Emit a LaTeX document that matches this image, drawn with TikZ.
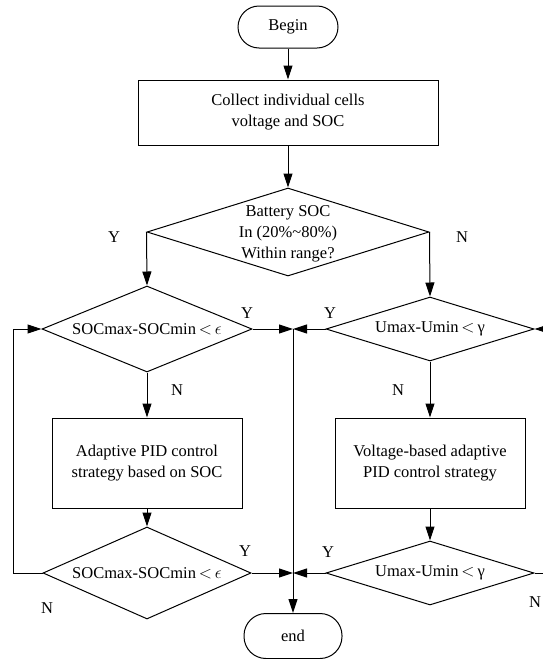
\documentclass[tikz,border=0pt]{standalone}
\usepackage{fontspec}
\setmainfont{Liberation Serif}
\usetikzlibrary{arrows.meta,shapes.geometric}
\begin{document}
\begin{tikzpicture}[x=1pt,y=-1pt,line width=1pt,
  every node/.style={font=\fontsize{16.5}{21}\selectfont},
  term/.style={draw,rectangle,rounded corners=21pt,align=center},
  proc/.style={draw,rectangle,align=center},
  dec/.style={draw,diamond,inner sep=0pt},
  txt/.style={align=center,inner sep=0pt},
  lbl/.style={inner sep=0pt},
  arr/.style={-{Triangle[length=14pt,width=9pt]}}]
\useasboundingbox (0,0) rectangle (542,659);
% nodes
\node[term,minimum width=100pt,minimum height=42pt] (begin) at (288,27) {Begin};
\node[proc,minimum width=300pt,minimum height=65pt] (collect) at (288,112.5) {Collect individual cells\\voltage and SOC};
\node[dec,minimum width=282pt,minimum height=88pt] (d1) at (288,232) {};
\node[txt] (d1t) at (288,234) {Battery SOC\\In (20\%\textasciitilde80\%)\\Within range?};
\node[dec,minimum width=210pt,minimum height=86pt] (d2) at (147,329) {};
\node[txt] (d2t) at (147,329) {SOCmax-SOCmin$\,{<}\,\epsilon$};
\node[dec,minimum width=208pt,minimum height=64pt] (d3) at (430,329) {};
\node[txt] (d3t) at (430,329) {Umax-Umin$\,{<}\,$γ};
\node[proc,minimum width=190pt,minimum height=90pt] (boxl) at (147,463) {Adaptive PID control\\strategy based on SOC};
\node[proc,minimum width=190pt,minimum height=90pt] (boxr) at (430,463) {Voltage-based adaptive\\PID control strategy};
\node[dec,minimum width=208pt,minimum height=92pt] (d4) at (147,573) {};
\node[txt] (d4t) at (147,573) {SOCmax-SOCmin$\,{<}\,\epsilon$};
\node[dec,minimum width=208pt,minimum height=64pt] (d5) at (430,573) {};
\node[txt] (d5t) at (430,573) {Umax-Umin$\,{<}\,$γ};
\node[term,rounded corners=22pt,minimum width=98pt,minimum height=45pt] (end) at (293,636) {end};
% labels
\node[lbl] (y1) at (114,237) {Y};
\node[lbl] (n1) at (462,237) {N};
\node[lbl] (y2) at (247,313) {Y};
\node[lbl] (y3) at (330,313) {Y};
\node[lbl] (n2) at (177,390) {N};
\node[lbl] (n3) at (398,390) {N};
\node[lbl] (y4) at (245,551) {Y};
\node[lbl] (y5) at (328,552) {Y};
\node[lbl] (n4) at (47,608) {N};
\node[lbl] (n5) at (535,602) {N};
% coordinates
\coordinate (jt) at (293,329);
\coordinate (jb) at (293,573);
\coordinate (lp) at (13,573);
\coordinate (rin) at (552,329);
\coordinate (rout) at (552,573);
% connectors
\draw[arr] (begin.south) -- (collect.north);
\draw[arr] (collect.south) -- (d1.north);
\draw[arr] (d1.west) -- (d2.north);
\draw[arr] (d1.east) -- (d3.north);
\draw[arr] (d2.south) -- (boxl.north);
\draw[arr] (boxl.south) -- (d4.north);
\draw[arr] (d3.south) -- (boxr.north);
\draw[arr] (boxr.south) -- (d5.north);
\draw[arr] (d2.east) -- (jt);
\draw[arr] (d3.west) -- (jt);
\draw[arr] (jt) -- (end.north);
\draw[arr] (d4.east) -- (jb);
\draw[arr] (d5.west) -- (jb);
\draw[arr] (d4.west) -- (lp) |- (d2.west);
\draw[arr] (rin) -- (d3.east);
\draw (d5.east) -- (rout);
\end{tikzpicture}
\end{document}
